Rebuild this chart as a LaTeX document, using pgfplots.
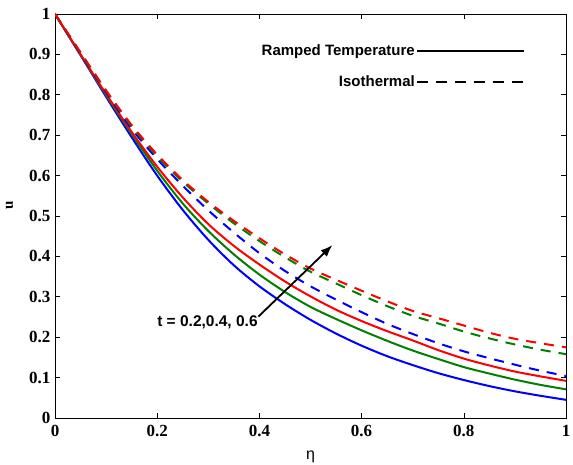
\documentclass[border=0pt]{standalone}
\usepackage{pgfplots}
\pgfplotsset{compat=1.18}
\usepackage{pgfplotstable}
\usepackage{fontspec}
\setmainfont{Liberation Serif}
\setsansfont{Liberation Sans}
\usetikzlibrary{arrows.meta}

\definecolor{mblue}{RGB}{0,0,255}
\definecolor{mgreen}{RGB}{0,128,0}
\definecolor{mred}{RGB}{255,0,0}

\pgfplotstableread{
eta   B     G     R     BD    GD    RD
0.00  1.000 1.000 1.000 1.000 1.000 1.000
0.05  0.898 0.899 0.900 0.902 0.904 0.905
0.10  0.795 0.799 0.802 0.806 0.809 0.811
0.15  0.695 0.703 0.708 0.716 0.722 0.725
0.20  0.600 0.612 0.622 0.641 0.648 0.652
0.25  0.515 0.531 0.546 0.575 0.585 0.589
0.30  0.441 0.463 0.480 0.514 0.531 0.535
0.35  0.378 0.405 0.426 0.459 0.482 0.488
0.40  0.326 0.355 0.380 0.408 0.438 0.445
0.45  0.282 0.312 0.338 0.364 0.398 0.405
0.50  0.243 0.275 0.301 0.326 0.362 0.370
0.55  0.209 0.245 0.268 0.293 0.333 0.342
0.60  0.179 0.217 0.240 0.262 0.304 0.315
0.65  0.153 0.191 0.215 0.233 0.277 0.289
0.70  0.131 0.167 0.192 0.208 0.253 0.265
0.75  0.111 0.146 0.168 0.185 0.234 0.247
0.80  0.094 0.126 0.147 0.165 0.214 0.229
0.85  0.079 0.110 0.130 0.148 0.197 0.211
0.90  0.066 0.095 0.115 0.132 0.182 0.196
0.95  0.055 0.082 0.103 0.117 0.169 0.185
1.00  0.045 0.071 0.092 0.104 0.158 0.175
}\datatable

\begin{document}
\begin{tikzpicture}[x=1pt,y=1pt]
\path[use as bounding box] (0,0) rectangle (573,465);
\begin{axis}[
  at={(55pt,47pt)}, anchor=south west,
  scale only axis, width=511pt, height=404pt,
  xmin=0, xmax=1, ymin=0, ymax=1,
  xtick={0,0.2,0.4,0.6,0.8,1},
  ytick={0,0.1,0.2,0.3,0.4,0.5,0.6,0.7,0.8,0.9,1},
  xticklabels={0,0.2,0.4,0.6,0.8,1},
  yticklabels={0,0.1,0.2,0.3,0.4,0.5,0.6,0.7,0.8,0.9,1},
  tick align=inside, tick pos=both, major tick length=5pt,
  axis line style={line width=0.8pt},
  every tick/.style={black, line width=0.6pt},
  tick label style={font=\rmfamily\bfseries\fontsize{17}{19}\selectfont},
  /pgf/number format/assume math mode=true,
  xticklabel style={yshift=-4pt},
  yticklabel style={xshift=-1pt},
  xlabel={\sffamily\fontsize{16}{18}\selectfont η},
  xlabel style={at={(axis description cs:0.5,-0.095)}, anchor=center},
  ylabel={\rmfamily\bfseries\fontsize{15}{17}\selectfont u},
  ylabel style={at={(axis description cs:-0.089,0.527)}, anchor=center},
  legend plot pos=right,
  legend cell align=right,
  legend image code/.code={\draw[#1] (0pt,0pt) -- (107pt,0pt);},
  legend style={at={(axis description cs:0.9198,0.926)}, anchor=north east,
    draw=none, fill=none, inner sep=0pt, row sep=16pt,
    nodes={inner sep=1pt},
    font=\sffamily\bfseries\fontsize{15}{17}\selectfont},
  clip=true,
]
\addlegendimage{black, line width=2pt}
\addlegendentry{Ramped Temperature}
\addlegendimage{black, line width=2pt, dash pattern=on 11pt off 8pt}
\addlegendentry{Isothermal}

\addplot[mblue, line width=2pt, smooth] table[x=eta, y=B] {\datatable};
\addplot[mgreen, line width=2pt, smooth] table[x=eta, y=G] {\datatable};
\addplot[mred, line width=2pt, smooth] table[x=eta, y=R] {\datatable};
\addplot[mblue, line width=2pt, smooth, dash pattern=on 10pt off 8pt] table[x=eta, y=BD] {\datatable};
\addplot[mgreen, line width=2pt, smooth, dash pattern=on 10pt off 8pt] table[x=eta, y=GD] {\datatable};
\addplot[mred, line width=2pt, smooth, dash pattern=on 10pt off 8pt] table[x=eta, y=RD] {\datatable};

\draw[black, line width=1.8pt, -{Latex[length=12pt,width=9pt]}] (axis cs:0.398,0.251) -- (axis cs:0.543,0.428);
\node[anchor=east, inner sep=0pt, font=\sffamily\bfseries\fontsize{15.5}{17}\selectfont] at (axis cs:0.397,0.236) {t = 0.2,0.4, 0.6};
\end{axis}
\end{tikzpicture}
\end{document}
